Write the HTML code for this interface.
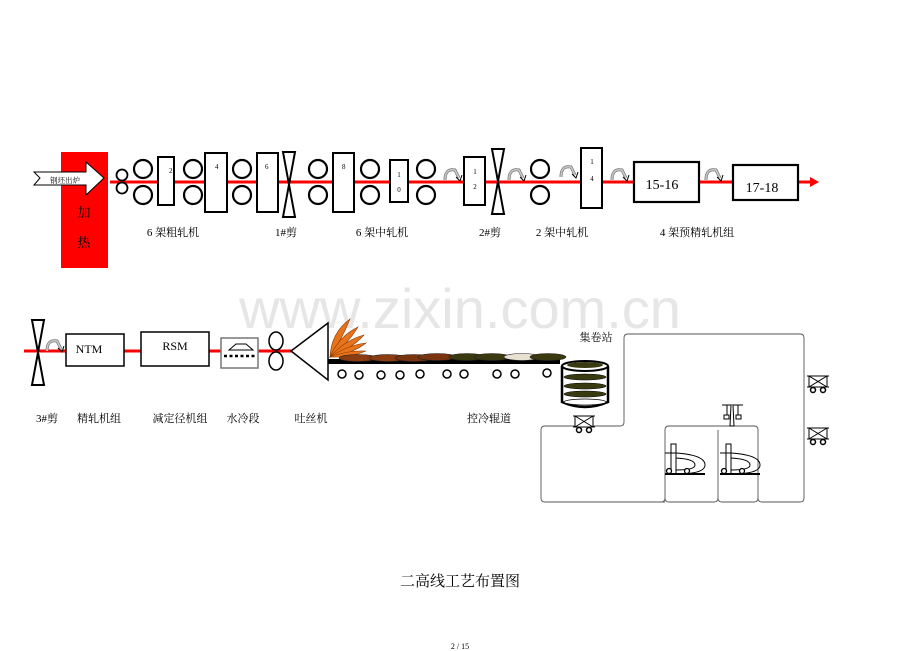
<!DOCTYPE html><html><head><meta charset="utf-8"><style>body{margin:0;background:#fff}svg{display:block}text{font-family:"Liberation Serif","Noto Serif CJK SC",serif}</style></head><body>
<svg width="920" height="651" viewBox="0 0 920 651" xmlns="http://www.w3.org/2000/svg">
<defs>
<g id="loop"><path d="M-6,4 Q-6,-8 4,-6 L8,2" fill="none" stroke="#777" stroke-width="3"/><path d="M-6,4 Q-6,-8 4,-6 L8,2" fill="none" stroke="#ccc" stroke-width="1.5"/><path d="M5,1 L9,5 L11,-1" fill="none" stroke="#000" stroke-width="1"/></g>
<g id="rolls"><circle cx="0" cy="-13" r="9" fill="#fff" stroke="#000" stroke-width="2.2"/><circle cx="0" cy="13" r="9" fill="#fff" stroke="#000" stroke-width="2.2"/></g>
<g id="shear"><path d="M-6,-32 L6,-32 L-6,33 L6,33 Z" fill="#fff" stroke="#000" stroke-width="2"/></g>
<g id="cart"><rect x="-9" y="-9" width="18" height="11" fill="#fff" stroke="#000"/><path d="M-9,-9 L9,2 M9,-9 L-9,2 M-11,-9 H11 M-11,2 H11" stroke="#000"/><circle cx="-5" cy="5" r="2.5" fill="#fff" stroke="#000" stroke-width="1.5"/><circle cx="5" cy="5" r="2.5" fill="#fff" stroke="#000" stroke-width="1.5"/></g>
<g id="hook"><rect x="-2" y="-24" width="5" height="30" fill="#fff" stroke="#000"/><path d="M-8,-15 H3 M3,-15 Q32,-13 32,-3 Q32,6 3,6 M3,-10 Q22,-9 22,-3 Q22,2 3,2" fill="none" stroke="#000"/><path d="M-8,6 H32" stroke="#000" stroke-width="2"/><circle cx="-4" cy="3" r="2.5" fill="#fff" stroke="#000" stroke-width="1.3"/><circle cx="14" cy="3" r="2.5" fill="#fff" stroke="#000" stroke-width="1.3"/></g>
</defs>
<text x="460" y="328" font-size="56" fill="#e6e6e6" text-anchor="middle" style="font-family:'Liberation Sans',sans-serif">www.zixin.com.cn</text>
<rect x="61" y="152" width="47" height="116" fill="#f00"/>
<text x="84" y="217" font-size="13" fill="#000" text-anchor="middle">加</text>
<text x="84" y="247" font-size="13" fill="#000" text-anchor="middle">热</text>
<line x1="110" y1="182" x2="810" y2="182" stroke="#f00" stroke-width="3"/>
<path d="M810,177 L819,182 L810,187 Z" fill="#f00"/>
<path d="M34,172 L86,172 L86,162 L104,178 L86,195 L86,185 L34,185 L40,178 Z" fill="#fff" stroke="#000"/>
<text x="65" y="183" font-size="7.5" text-anchor="middle">钢坯出炉</text>
<circle cx="122" cy="175" r="5.5" fill="#fff" stroke="#000" stroke-width="1.8"/><circle cx="122" cy="188" r="5.5" fill="#fff" stroke="#000" stroke-width="1.8"/>
<use href="#rolls" x="143" y="182"/>
<rect x="158" y="157" width="16" height="48" fill="#fff" stroke="#000" stroke-width="2"/><text x="169" y="173" font-size="7">2</text>
<use href="#rolls" x="193" y="182"/>
<rect x="205" y="153" width="22" height="59" fill="#fff" stroke="#000" stroke-width="2"/><text x="215" y="169" font-size="7">4</text>
<use href="#rolls" x="242" y="182"/>
<rect x="257" y="153" width="21" height="59" fill="#fff" stroke="#000" stroke-width="2"/><text x="265" y="169" font-size="7">6</text>
<use href="#shear" x="289" y="184"/>
<use href="#rolls" x="318" y="182"/>
<rect x="333" y="153" width="21" height="59" fill="#fff" stroke="#000" stroke-width="2"/><text x="342" y="169" font-size="7">8</text>
<use href="#rolls" x="370" y="182"/>
<rect x="390" y="160" width="18" height="42" fill="#fff" stroke="#000" stroke-width="2"/><text x="399" y="177" font-size="7" text-anchor="middle">1</text><text x="399" y="192" font-size="7" text-anchor="middle">0</text>
<use href="#rolls" x="426" y="182"/>
<use href="#loop" x="451" y="176"/>
<rect x="464" y="157" width="21" height="48" fill="#fff" stroke="#000" stroke-width="2"/><text x="475" y="174" font-size="7" text-anchor="middle">1</text><text x="475" y="189" font-size="7" text-anchor="middle">2</text>
<use href="#shear" x="498" y="181"/>
<use href="#loop" x="515" y="176"/>
<use href="#rolls" x="540" y="182"/>
<use href="#loop" x="567" y="173"/>
<rect x="581" y="148" width="21" height="60" fill="#fff" stroke="#000" stroke-width="2"/><text x="592" y="164" font-size="7" text-anchor="middle">1</text><text x="592" y="181" font-size="7" text-anchor="middle">4</text>
<use href="#loop" x="618" y="176"/>
<rect x="634" y="162" width="65" height="40" fill="#fff" stroke="#000" stroke-width="2.2"/><text x="662" y="189" font-size="14" text-anchor="middle">15-16</text>
<use href="#loop" x="712" y="176"/>
<rect x="733" y="165" width="65" height="35" fill="#fff" stroke="#000" stroke-width="2.2"/><text x="762" y="192" font-size="14" text-anchor="middle">17-18</text>
<g font-size="11" text-anchor="middle"><text x="173" y="236">6 架粗轧机</text><text x="286" y="236">1#剪</text><text x="382" y="236">6 架中轧机</text><text x="490" y="236">2#剪</text><text x="562" y="236">2 架中轧机</text><text x="697" y="236">4 架预精轧机组</text></g>
<line x1="24" y1="351" x2="292" y2="351" stroke="#f00" stroke-width="3"/>
<use href="#shear" x="38" y="352"/>
<use href="#loop" x="53" y="347"/>
<rect x="66" y="334" width="58" height="32" fill="#fff" stroke="#000" stroke-width="1.5"/><text x="89" y="353" font-size="12" text-anchor="middle">NTM</text>
<rect x="141" y="332" width="68" height="34" fill="#fff" stroke="#000" stroke-width="1.5"/><text x="175" y="350" font-size="12" text-anchor="middle">RSM</text>
<rect x="221" y="338" width="37" height="30" fill="#fff" stroke="#777" stroke-width="1.5"/><path d="M229,350 L236,344 L246,344 L253,350 Z" fill="none" stroke="#000"/><line x1="224" y1="356" x2="256" y2="356" stroke="#000" stroke-width="2.5" stroke-dasharray="3,2.5"/>
<ellipse cx="276" cy="341" rx="7" ry="9" fill="#fff" stroke="#000" stroke-width="1.5"/><ellipse cx="276" cy="361" rx="7" ry="9" fill="#fff" stroke="#000" stroke-width="1.5"/>
<path d="M328,323 L291,351 L328,380 Z" fill="#fff" stroke="#000" stroke-width="1.5"/>
<g fill="#e8731a" stroke="#8a3a00" stroke-width="0.6">
<path d="M330,357 Q331,333 350,319 Q341,341 330,357 Z"/>
<path d="M330,357 Q339,336 358,327 Q347,345 330,357 Z"/>
<path d="M330,357 Q345,340 364,335 Q350,350 330,357 Z"/>
<path d="M330,357 Q348,345 366,343 Q352,354 330,357 Z"/>
<path d="M330,357 Q349,350 366,351 Q350,358 330,357 Z"/>
</g>
<rect x="328" y="359" width="232" height="5" fill="#000"/>
<g stroke="#222" stroke-width="0.6">
<ellipse cx="358" cy="358" rx="19" ry="3.5" fill="#8b3c10"/><ellipse cx="388" cy="358" rx="19" ry="3.5" fill="#8b3c10"/><ellipse cx="414" cy="358" rx="19" ry="3.5" fill="#7a3510"/><ellipse cx="437" cy="357" rx="19" ry="3.5" fill="#7a3510"/><ellipse cx="467" cy="357" rx="18" ry="3.5" fill="#3a3a10"/><ellipse cx="492" cy="357" rx="18" ry="3.5" fill="#3a3a10"/><ellipse cx="522" cy="357" rx="18" ry="3.5" fill="#e8e0d0"/><ellipse cx="548" cy="357" rx="18" ry="3.5" fill="#3a3a10"/>
</g>
<g fill="#fff" stroke="#000" stroke-width="1.5"><circle cx="342" cy="374" r="4"/><circle cx="359" cy="375" r="4"/><circle cx="381" cy="375" r="4"/><circle cx="400" cy="375" r="4"/><circle cx="420" cy="374" r="4"/><circle cx="447" cy="374" r="4"/><circle cx="464" cy="374" r="4"/><circle cx="497" cy="374" r="4"/><circle cx="515" cy="374" r="4"/><circle cx="547" cy="373" r="4"/></g>
<path d="M562,366 L562,402 Q585,412 608,402 L608,366" fill="#fff" stroke="#000" stroke-width="2.5"/>
<ellipse cx="585" cy="366" rx="23" ry="5" fill="#fff" stroke="#000" stroke-width="2"/>
<ellipse cx="585" cy="365" rx="18" ry="3" fill="#3a3a10"/>
<g fill="#3a3a10" stroke="#000" stroke-width="0.6"><ellipse cx="585" cy="377" rx="21" ry="3"/><ellipse cx="585" cy="386" rx="21" ry="3"/><ellipse cx="585" cy="394" rx="21" ry="3"/></g>
<ellipse cx="585" cy="402" rx="21" ry="3" fill="#fff" stroke="#000" stroke-width="0.8"/>
<text x="596" y="341" font-size="11" text-anchor="middle">集卷站</text>
<path d="M665,502 L545,502 Q541,502 541,498 L541,430 Q541,426 545,426 L620,426 Q624,426 624,422 L624,338 Q624,334 628,334 L800,334 Q804,334 804,338 L804,498 Q804,502 800,502 L762,502 Q758,502 758,498 L758,430 Q758,426 754,426 L669,426 Q665,426 665,430 L665,498 Q665,502 669,502 L714,502 Q718,502 718,498 L718,430 M718,498 Q718,502 722,502 L754,502 Q758,502 758,498 M665,498 Q665,502 661,502" fill="none" stroke="#555" stroke-width="0.9"/>
<use href="#cart" x="584" y="425"/>
<use href="#cart" x="818" y="385"/>
<use href="#cart" x="818" y="437"/>
<g stroke="#000" fill="#fff"><path d="M722,405 H743 M727,405 V415 M738,405 V415" /><rect x="724" y="415" width="5" height="4"/><rect x="736" y="415" width="5" height="4"/><path d="M731,405 L730,426 L734,426 L733,405"/></g>
<use href="#hook" x="673" y="468"/>
<use href="#hook" x="728" y="468"/>
<g font-size="11" text-anchor="middle"><text x="47" y="422">3#剪</text><text x="99" y="422">精轧机组</text><text x="180" y="422">减定径机组</text><text x="243" y="422">水冷段</text><text x="311" y="422">吐丝机</text><text x="489" y="422">控冷辊道</text></g>
<text x="460" y="586" font-size="15" text-anchor="middle">二高线工艺布置图</text>
<text x="460" y="649" font-size="8" text-anchor="middle">2 / 15</text>
</svg>
</body></html>
